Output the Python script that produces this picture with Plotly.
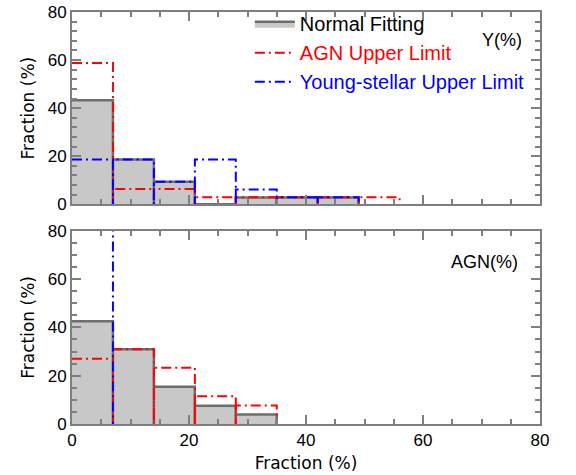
import plotly.graph_objects as go

# ---------------- data ----------------
bin_edges = [0, 7, 14, 21, 28, 35, 42, 49, 56]

# top panel: Y(%)
y_normal = [43.3, 18.6, 9.4, 0.0, 2.8, 2.8, 2.8]
y_agn = [58.8, 6.4, 6.4, 2.9, 2.9, 2.9, 2.9, 2.9]
y_young = [18.6, 18.6, 9.4, 18.6, 6.1, 2.9, 2.9]

# bottom panel: AGN(%)
a_normal = [42.5, 30.9, 15.4, 7.6, 3.9]
a_agn = [27.0, 30.9, 23.3, 11.5, 7.7]
a_young = [100.0]

series_names = ["Normal Fitting", "AGN Upper Limit", "Young-stellar Upper Limit"]
panel_labels = ["Y(%)", "AGN(%)"]
x_range = [0, 80]
y_range = [0, 80]
x_ticks = [0, 20, 40, 60, 80]
y_ticks = [0, 20, 40, 60, 80]

GRAY_LINE = "#6e6e6e"
GRAY_FILL = "#c8c8c8"
FRAME = "#7f7f7f"
RED = "#ff0000"
BLUE = "#0000ff"
DASH = "10px,4px,2px,4px"
SANS = "Liberation Sans, Arial, sans-serif"


def outline(values):
    xs, ys = [], []
    for i, v in enumerate(values):
        x0, x1 = bin_edges[i], bin_edges[i + 1]
        if x0 == x_range[0]:
            xs += [x0, x1, x1]
            ys += [v, v, 0]
        else:
            xs += [x0, x0, x1, x1]
            ys += [0, v, v, 0]
    return xs, ys


fig = go.Figure()


def add_panel(normal, agn, young, xa, ya, show):
    xs, ys = outline(normal)
    fig.add_trace(go.Scatter(
        x=xs, y=ys, mode="lines", fill="tozeroy", fillcolor=GRAY_FILL,
        line=dict(color=GRAY_LINE, width=2.5),
        name=series_names[0], legendgroup="g1", showlegend=show,
        xaxis=xa, yaxis=ya))
    xs, ys = outline(agn)
    fig.add_trace(go.Scatter(
        x=xs, y=ys, mode="lines", line=dict(color=RED, width=2, dash=DASH),
        name="<span style='color:#ff0000'>" + series_names[1] + "</span>",
        legendgroup="g2", showlegend=show, xaxis=xa, yaxis=ya))
    xs, ys = outline(young)
    fig.add_trace(go.Scatter(
        x=xs, y=ys, mode="lines", line=dict(color=BLUE, width=2, dash=DASH),
        name="<span style='color:#0000ff'>" + series_names[2] + "</span>",
        legendgroup="g3", showlegend=show, xaxis=xa, yaxis=ya))


add_panel(a_normal, a_agn, a_young, "x", "y", False)
add_panel(y_normal, y_agn, y_young, "x2", "y2", True)

common = dict(
    showline=True, linecolor=FRAME, linewidth=2, mirror="allticks",
    ticks="inside", ticklen=9, tickwidth=1.5, tickcolor=FRAME,
    showgrid=False, zeroline=False, layer="above traces",
    tickfont=dict(family=SANS, size=17, color="black"),
)
title_font = dict(family="DejaVu Sans, sans-serif", size=17, color="black")


def minor(step):
    return dict(ticks="inside", ticklen=5, dtick=step, tickcolor=FRAME,
                tickwidth=1.5, showgrid=False)


fig.update_layout(
    width=576, height=475,
    margin=dict(l=72, r=36, t=4, b=51),
    paper_bgcolor="white", plot_bgcolor="white",
    xaxis=dict(**common, range=x_range, domain=[0, 1], anchor="y", tickvals=x_ticks,
               minor=minor(5),
               title=dict(text="Fraction (%)", font=title_font, standoff=8)),
    yaxis=dict(**common, range=y_range, domain=[0, 0.469], anchor="x", tickvals=y_ticks,
               minor=minor(5),
               title=dict(text="Fraction (%)", font=title_font, standoff=9)),
    xaxis2=dict(**common, range=x_range, domain=[0, 1], anchor="y2", matches="x",
                tickvals=x_ticks, showticklabels=False, minor=minor(5)),
    yaxis2=dict(**common, range=y_range, domain=[0.5333, 1], anchor="x2", tickvals=y_ticks,
                minor=minor(4),
                title=dict(text="Fraction (%)", font=title_font, standoff=9)),
    legend=dict(x=0.38, y=1.019, xanchor="left", yanchor="top",
                font=dict(family=SANS, size=20, color="black"),
                bgcolor="rgba(0,0,0,0)", itemwidth=40, tracegroupgap=0),
    showlegend=True,
    annotations=[
        dict(text=panel_labels[0], xref="paper", yref="paper", x=0.919, y=0.932,
             xanchor="center", yanchor="middle", showarrow=False,
             font=dict(family=SANS, size=18, color="black")),
        dict(text=panel_labels[1], xref="paper", yref="paper", x=0.882, y=0.393,
             xanchor="center", yanchor="middle", showarrow=False,
             font=dict(family=SANS, size=18, color="black")),
    ],
)

fig.write_html("out.html")
